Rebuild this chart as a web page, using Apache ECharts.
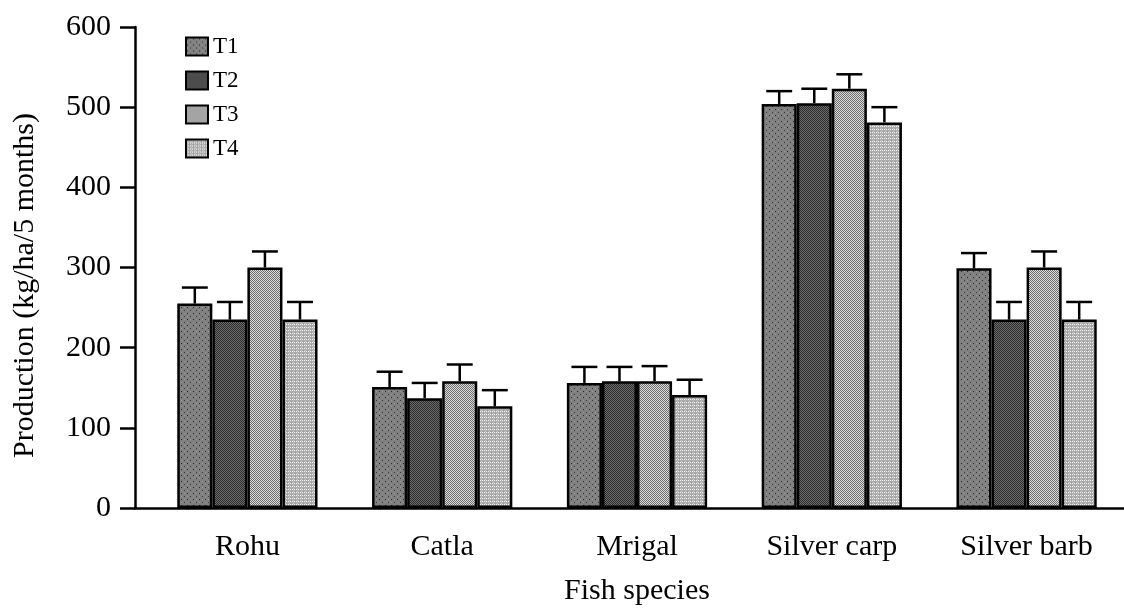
<!DOCTYPE html>
<html>
<head>
<meta charset="utf-8">
<script src="https://cdn.jsdelivr.net/npm/echarts@6/dist/echarts.min.js"></script>
<style>html,body{margin:0;padding:0;background:#fff;}#chart{width:1124px;height:611px;}</style>
</head>
<body>
<div id="chart"></div>
<script>
const categories = ['Rohu', 'Catla', 'Mrigal', 'Silver carp', 'Silver barb'];
const seriesNames = ['T1', 'T2', 'T3', 'T4'];
const t1Values = [255, 151, 156, 504, 299];
const t2Values = [235, 137, 158, 505, 235];
const t3Values = [300, 158, 158, 523, 300];
const t4Values = [235, 127, 141, 481, 235];
const t1Err = [20, 19, 20, 16, 19];
const t2Err = [22, 19, 18, 18, 22];
const t3Err = [20, 21, 19, 18, 20];
const t4Err = [22, 20, 19, 19, 22];
const yTicks = [0, 100, 200, 300, 400, 500, 600];

const values = [t1Values, t2Values, t3Values, t4Values];
const errors = [t1Err, t2Err, t3Err, t4Err];

function pattern(w, h, base, dots) {
  const c = document.createElement('canvas');
  c.width = w; c.height = h;
  const g = c.getContext('2d');
  g.fillStyle = base; g.fillRect(0, 0, w, h);
  dots.forEach(d => { g.fillStyle = d[2]; g.fillRect(d[0], d[1], 1, 1); });
  return { image: c, repeat: 'repeat' };
}
const fills = [
  pattern(6, 6, '#808080', [[1, 1, '#2a2a2a'], [4, 1, '#9a9a9a'], [4, 4, '#3a3a3a'], [1, 4, '#959595']]),
  pattern(2, 2, '#2c2c2c', [[1, 0, '#6c6c6c'], [0, 1, '#6c6c6c']]),
  pattern(2, 2, '#717171', [[1, 0, '#d8d8d8'], [0, 1, '#d8d8d8']]),
  pattern(4, 3, '#adadad', [[0, 0, '#f2f2f2'], [2, 0, '#f2f2f2'], [1, 2, '#c8c8c8'], [3, 2, '#979797']])
];

const FONT = 'Liberation Serif';
const GAP = 0.28;

const barSeries = seriesNames.map((n, k) => ({
  name: n,
  type: 'bar',
  xAxisIndex: 1,
  yAxisIndex: 1,
  barGap: '0%',
  barCategoryGap: (GAP * 100) + '%',
  data: values[k],
  itemStyle: { color: fills[k], borderColor: '#000', borderWidth: 2.5 },
  emphasis: { disabled: true },
  z: 2
}));

const errSeries = seriesNames.map((n, k) => ({
  name: n + ' error',
  type: 'custom',
  xAxisIndex: 1,
  yAxisIndex: 1,
  z: 5,
  silent: true,
  data: categories.map((c, i) => [i, values[k][i], errors[k][i]]),
  encode: { x: 0, y: 1 },
  renderItem: function (params, api) {
    const i = api.value(0), v = api.value(1), e = api.value(2);
    const base = api.coord([i, v]);
    const top = api.coord([i, v + e]);
    const band = api.size([1, 0])[0];
    const bw = band * (1 - GAP) / 4;
    const x = base[0] + (k - 1.5) * bw;
    const cap = bw * 0.74;
    const st = { stroke: '#000', lineWidth: 2.5 };
    return {
      type: 'group',
      children: [
        { type: 'line', shape: { x1: x, y1: base[1], x2: x, y2: top[1] }, style: st },
        { type: 'line', shape: { x1: x - cap / 2, y1: top[1], x2: x + cap / 2, y2: top[1] }, style: st }
      ]
    };
  }
}));

const chart = echarts.init(document.getElementById('chart'));
chart.setOption({
  animation: false,
  backgroundColor: '#fff',
  textStyle: { fontFamily: FONT, color: '#000' },
  grid: [
    { left: 135, right: 0, top: 27, bottom: 103 },
    { left: 150, right: 0, top: 27, bottom: 103 }
  ],
  legend: {
    data: seriesNames,
    orient: 'vertical',
    left: 180,
    top: 30,
    itemWidth: 22,
    itemHeight: 18,
    itemGap: 11,
    icon: 'rect',
    textStyle: { fontFamily: FONT, fontSize: 23, color: '#000' },
    selectedMode: false
  },
  xAxis: [
    {
      gridIndex: 0, type: 'value', min: 0, max: 1,
      axisLine: { show: true, lineStyle: { color: '#000', width: 2.5 } },
      axisTick: { show: false }, axisLabel: { show: false }, splitLine: { show: false }
    },
    {
      gridIndex: 1, type: 'category', data: categories,
      axisLine: { show: false }, axisTick: { show: false },
      axisLabel: { fontFamily: FONT, fontSize: 30, color: '#000', margin: 24 },
      name: 'Fish species', nameLocation: 'middle', nameGap: 68,
      nameTextStyle: { fontFamily: FONT, fontSize: 30, color: '#000' }
    }
  ],
  yAxis: [
    {
      gridIndex: 0, type: 'value', min: yTicks[0], max: yTicks[yTicks.length - 1], interval: 100,
      axisLine: { show: true, lineStyle: { color: '#000', width: 2.5 } },
      axisTick: { show: true, inside: false, length: 15, lineStyle: { color: '#000', width: 2.5 } },
      axisLabel: { fontFamily: FONT, fontSize: 30, color: '#000', margin: 24 },
      splitLine: { show: false },
      name: 'Production (kg/ha/5 months)', nameLocation: 'middle', nameGap: 95,
      nameTextStyle: { fontFamily: FONT, fontSize: 30, color: '#000', padding: [0, 36, 0, 0] }
    },
    {
      gridIndex: 1, type: 'value', min: yTicks[0], max: yTicks[yTicks.length - 1],
      show: false, splitLine: { show: false }
    }
  ],
  series: barSeries.concat(errSeries)
});
</script>
</body>
</html>
